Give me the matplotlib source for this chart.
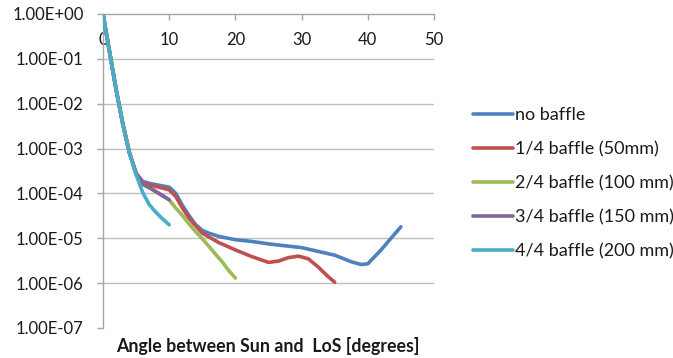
import numpy as np
import matplotlib
matplotlib.use("Agg")
import matplotlib.pyplot as plt
from matplotlib.ticker import FixedLocator, FuncFormatter, NullLocator

plt.rcParams["font.family"] = ["Lato", "DejaVu Sans"]

# values (angle in degrees, normalised straylight)
ang_none = [0, 1, 2, 3, 4, 5, 6, 7, 8, 9, 10, 11, 12, 13, 14, 15, 16, 17.5, 20,
            22.5, 25, 27.5, 30, 32.5, 35, 37.5, 39, 40, 42, 43.5, 45]
no_baffle = [1, 0.14, 0.02, 3.5e-3, 8e-4, 2.8e-4, 1.86e-4, 1.68e-4, 1.57e-4, 1.47e-4,
             1.38e-4, 1e-4, 5.4e-5, 3.2e-5, 2e-5, 1.5e-5, 1.3e-5, 1.1e-5, 9.3e-6,
             8.5e-6, 7.5e-6, 6.8e-6, 6.2e-6, 5.1e-6, 4.2e-6, 3e-6, 2.6e-6, 2.7e-6,
             5.5e-6, 1e-5, 1.8e-5]

ang_q1 = [0, 1, 2, 3, 4, 5, 6, 7, 8, 9, 10, 11, 12, 13, 14, 15, 17.5, 20,
          22.5, 25, 26.5, 28, 29.5, 31, 32.5, 34, 35]
baffle_q1 = [1, 0.14, 0.02, 3.5e-3, 8e-4, 2.8e-4, 1.75e-4, 1.55e-4, 1.42e-4, 1.32e-4,
             1.2e-4, 8.5e-5, 4.7e-5, 2.8e-5, 1.9e-5, 1.3e-5, 8e-6, 5.5e-6,
             3.9e-6, 2.9e-6, 3.1e-6, 3.7e-6, 4e-6, 3.5e-6, 2.3e-6, 1.4e-6, 1.05e-6]

ang_q2 = [0, 1, 2, 3, 4, 5, 6, 7, 8, 9, 10, 11, 12, 13, 14, 15, 16, 17, 18, 19, 20]
baffle_q2 = [1, 0.14, 0.02, 3.5e-3, 8e-4, 2.8e-4, 1.6e-4, 1.33e-4, 1.08e-4, 8.8e-5,
             7.2e-5, 4.7e-5, 3.2e-5, 2.1e-5, 1.4e-5, 9.8e-6, 6.6e-6, 4.4e-6, 3e-6,
             1.9e-6, 1.3e-6]

ang_q3 = [0, 1, 2, 3, 4, 5, 6, 7, 8, 9, 10]
baffle_q3 = [1, 0.14, 0.02, 3.5e-3, 8e-4, 2.8e-4, 1.6e-4, 1.35e-4, 1.1e-4, 9e-5, 7.2e-5]

ang_q4 = [0, 1, 2, 3, 4, 5, 6, 7, 8, 9, 10]
baffle_q4 = [1, 0.14, 0.02, 3.5e-3, 8e-4, 2.6e-4, 1.05e-4, 5.6e-5, 3.8e-5, 2.7e-5, 2e-5]

labels = ["no baffle", "1/4 baffle (50mm)", "2/4 baffle (100 mm)",
          "3/4 baffle (150 mm)", "4/4 baffle (200 mm)"]
colors = ["#4F81BD", "#C0504D", "#9BBB59", "#8064A2", "#4BACC6"]

x_ticks = [0, 10, 20, 30, 40, 50]
y_ticks = [1e-7, 1e-6, 1e-5, 1e-4, 1e-3, 1e-2, 1e-1, 1e0]

fig = plt.figure(figsize=(6.73, 3.58), dpi=100)
ax = fig.add_axes([103 / 673, 30 / 358, 331 / 673, 314 / 358])

series = [(ang_none, no_baffle), (ang_q1, baffle_q1), (ang_q2, baffle_q2),
          (ang_q3, baffle_q3), (ang_q4, baffle_q4)]
for (xs, ys), lab, c in zip(series, labels, colors):
    ax.plot(xs, ys, color=c, lw=2.6, label=lab, solid_capstyle="round",
            solid_joinstyle="round", zorder=3)

ax.set_yscale("log")
ax.set_xlim(0, 50)
ax.set_ylim(1e-7, 1e0)

grid_c = "#BFBFBF"
# gridlines, none on the bottom tick
ax.hlines(y_ticks[1:-1], 0, 50, colors=grid_c, lw=1.0, zorder=1)

for s in ["right", "bottom"]:
    ax.spines[s].set_visible(False)
for s in ["left", "top"]:
    ax.spines[s].set_color("#A6A6A6")
    ax.spines[s].set_linewidth(1.0)

ax.yaxis.set_major_locator(FixedLocator(y_ticks))
ax.yaxis.set_minor_locator(NullLocator())
ax.yaxis.set_major_formatter(FuncFormatter(lambda v, p: f"{v:.2E}"))
ax.tick_params(axis="y", direction="out", length=4.5, width=1, color="#A6A6A6",
               pad=9.5, labelsize=12, labelcolor="#1a1a1a")

ax.xaxis.tick_top()
ax.set_xticks(x_ticks)
ax.tick_params(axis="x", direction="in", length=4, width=1, color="#A6A6A6",
               pad=-24.6, labelsize=12, labelcolor="#1a1a1a")

fig.text(268 / 673, 1 - 346 / 358, "Angle between Sun and  LoS [degrees]",
         ha="center", va="center", fontsize=12.8, fontweight="bold", color="#1a1a1a")

fig.legend(loc="upper left", bbox_to_anchor=(473 / 673, 1 - 107 / 358), frameon=False,
           fontsize=13, handlelength=2.2, handletextpad=0.12, labelspacing=1.0,
           borderpad=0, borderaxespad=0, labelcolor="#1a1a1a")

fig.savefig("out.png", dpi=100)
